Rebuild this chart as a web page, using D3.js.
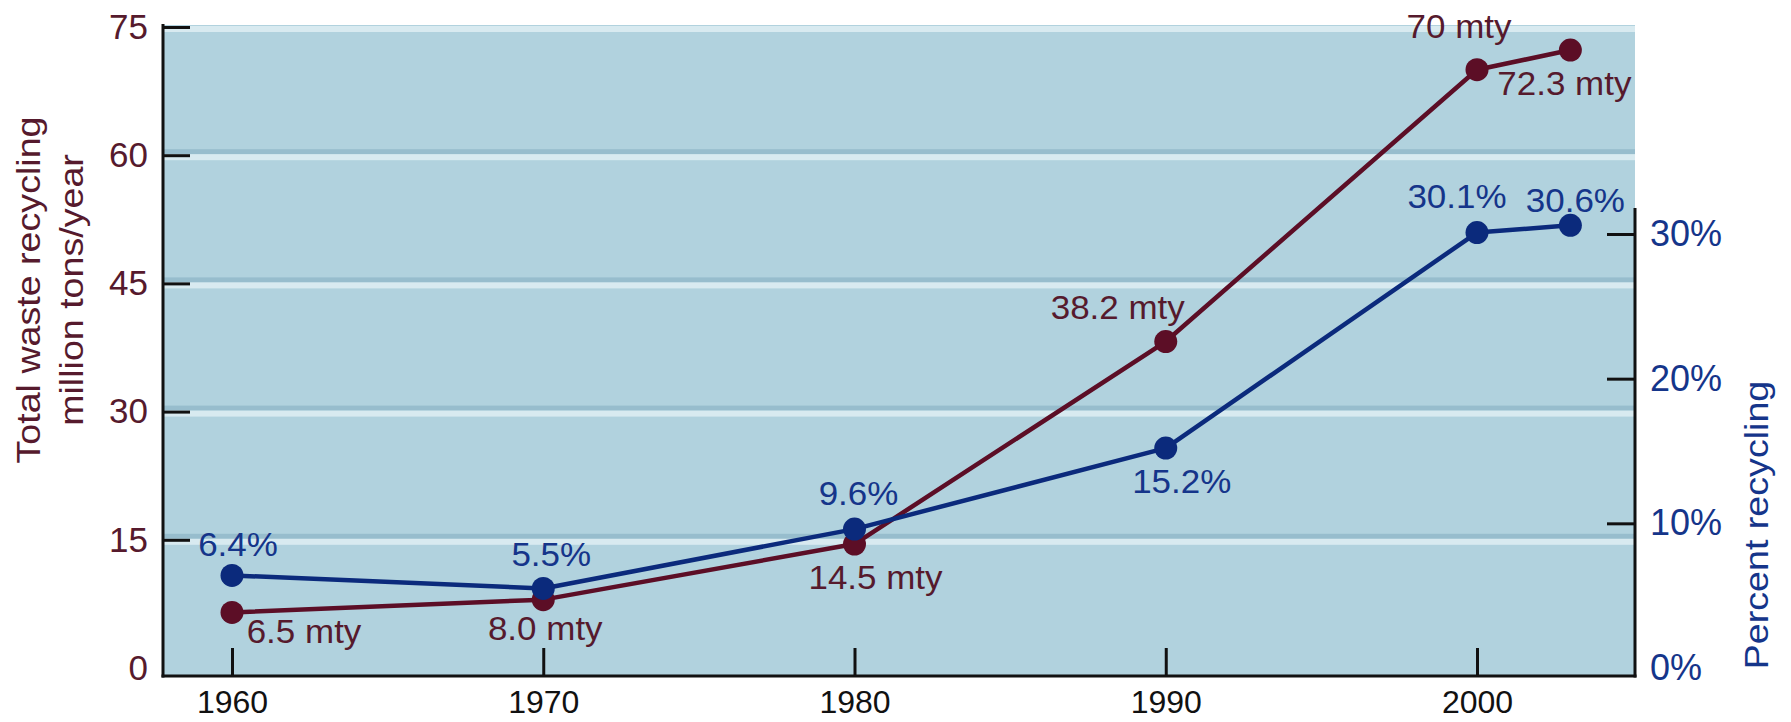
<!DOCTYPE html>
<html>
<head>
<meta charset="utf-8">
<script src="https://cdn.jsdelivr.net/npm/d3@7"></script>
<style>
  html, body { margin: 0; padding: 0; background: #ffffff; }
  svg { display: block; font-family: "Liberation Sans", Arial, Helvetica, sans-serif; }
</style>
</head>
<body>
<svg id="chart" width="1791" height="722"></svg>
<script>
// Recycling in the US: total tonnage recycled and share of waste recycled
const years = [1960, 1970, 1980, 1990, 2000, 2003];
const totalRecycling = [6.5, 8.0, 14.5, 38.2, 70, 72.3];        // million tons / year
const percentRecycling = [6.4, 5.5, 9.6, 15.2, 30.1, 30.6];      // percent
const totalLabels = ["6.5 mty", "8.0 mty", "14.5 mty", "38.2 mty", "70 mty", "72.3 mty"];
const percentLabels = ["6.4%", "5.5%", "9.6%", "15.2%", "30.1%", "30.6%"];
const leftTicks = [0, 15, 30, 45, 60, 75];
const rightTicks = [0, 10, 20, 30];
const yearTicks = [1960, 1970, 1980, 1990, 2000];

// label offsets from their points: [dx, dy]
const totalLabelOffset = [[72, 31], [2, 40], [21, 45], [-48, -23], [-18, -32], [-6, 45]];
const percentLabelOffset = [[6, -19], [8, -22], [4, -24], [16, 45], [-20, -25], [5, -13]];

const W = 1791, H = 722;
const plot = { left: 163, right: 1635, top: 25, bottom: 676 };

const C = {
  bg: "#b1d2de",
  bandDark: "#97bdcd",
  bandLight: "#d8eaf0",
  red: "#5c0e26",
  redText: "#561a2d",
  blue: "#0b2a7c",
  blueText: "#15358a",
  axis: "#111111"
};

const svg = d3.select("#chart");

const x = d3.scaleLinear().domain([1960, 2000]).range([232, 1477]);
const yL = d3.scaleLinear().domain([0, 75]).range([668, 27]);
const yR = d3.scaleLinear().domain([0, 30]).range([668, 234]);

// plot background
svg.append("rect")
  .attr("x", plot.left).attr("y", plot.top)
  .attr("width", plot.right - plot.left).attr("height", plot.bottom - plot.top)
  .attr("fill", C.bg);

// grid bands: a darker rule with a pale highlight underneath
const bands = svg.append("g");
leftTicks.filter(v => v > 0).forEach(v => {
  const yy = yL(v);
  if (v < 75) {
    bands.append("rect")
      .attr("x", plot.left).attr("y", yy - 6)
      .attr("width", plot.right - plot.left).attr("height", 5)
      .attr("fill", C.bandDark);
  }
  bands.append("rect")
    .attr("x", plot.left).attr("y", Math.max(yy - 1, plot.top))
    .attr("width", plot.right - plot.left).attr("height", 6)
    .attr("fill", C.bandLight);
});

// left axis
const gL = svg.append("g")
  .attr("transform", `translate(${plot.left},0)`)
  .call(d3.axisLeft(yL).tickValues(leftTicks).tickSizeInner(-27).tickSizeOuter(0).tickPadding(15));
gL.select(".domain").remove();
gL.selectAll(".tick line").attr("stroke", C.axis).attr("stroke-width", 3)
  .filter(d => d === 0).remove();
gL.selectAll(".tick text")
  .attr("fill", C.redText).attr("font-size", 35)
  .attr("font-family", "Liberation Sans, Arial, sans-serif");

// right axis
const gR = svg.append("g")
  .attr("transform", `translate(${plot.right},0)`)
  .call(d3.axisRight(yR).tickValues(rightTicks).tickSizeInner(-28).tickSizeOuter(0).tickPadding(15)
    .tickFormat(d => d + "%"));
gR.select(".domain").remove();
gR.selectAll(".tick line").attr("stroke", C.axis).attr("stroke-width", 3)
  .filter(d => d === 0).remove();
gR.selectAll(".tick text")
  .attr("fill", C.blueText).attr("font-size", 36)
  .attr("font-family", "Liberation Sans, Arial, sans-serif");

// bottom axis
const gB = svg.append("g")
  .attr("transform", `translate(0,${plot.bottom})`)
  .call(d3.axisBottom(x).tickValues(yearTicks).tickSizeInner(-28).tickSizeOuter(0).tickPadding(14)
    .tickFormat(d3.format("d")));
gB.select(".domain").remove();
gB.selectAll(".tick line").attr("stroke", C.axis).attr("stroke-width", 3);
gB.selectAll(".tick text")
  .attr("fill", "#111").attr("font-size", 32)
  .attr("font-family", "Liberation Sans, Arial, sans-serif");

// axis lines
svg.append("line")
  .attr("x1", plot.left).attr("x2", plot.left)
  .attr("y1", plot.top - 1).attr("y2", plot.bottom + 1.5)
  .attr("stroke", C.axis).attr("stroke-width", 3);
svg.append("line")
  .attr("x1", plot.left - 1.5).attr("x2", plot.right + 1.5)
  .attr("y1", plot.bottom).attr("y2", plot.bottom)
  .attr("stroke", C.axis).attr("stroke-width", 3);
svg.append("line")
  .attr("x1", plot.right).attr("x2", plot.right)
  .attr("y1", yR(31.8)).attr("y2", plot.bottom + 1.5)
  .attr("stroke", C.axis).attr("stroke-width", 3);

// series
const rows = years.map((yr, i) => ({
  year: yr, total: totalRecycling[i], pct: percentRecycling[i],
  tLabel: totalLabels[i], pLabel: percentLabels[i],
  tOff: totalLabelOffset[i], pOff: percentLabelOffset[i]
}));

function drawSeries(accessor, scale, color) {
  const line = d3.line().x(d => x(d.year)).y(d => scale(accessor(d)));
  svg.append("path").datum(rows)
    .attr("d", line).attr("fill", "none")
    .attr("stroke", color).attr("stroke-width", 4.5).attr("stroke-linejoin", "round");
  svg.append("g").selectAll("circle").data(rows).join("circle")
    .attr("cx", d => x(d.year)).attr("cy", d => scale(accessor(d)))
    .attr("r", 11.5).attr("fill", color);
}
drawSeries(d => d.total, yL, C.red);
drawSeries(d => d.pct, yR, C.blue);

// value labels
function drawLabels(accessor, scale, textOf, offOf, color) {
  svg.append("g").selectAll("text").data(rows).join("text")
    .attr("transform", d => `translate(${x(d.year) + offOf(d)[0]},${scale(accessor(d)) + offOf(d)[1]}) scale(1.06,1)`)
    .attr("text-anchor", "middle")
    .attr("font-size", 33)
    .attr("fill", color)
    .text(textOf);
}
drawLabels(d => d.total, yL, d => d.tLabel, d => d.tOff, C.redText);
drawLabels(d => d.pct, yR, d => d.pLabel, d => d.pOff, C.blueText);

// axis titles
svg.append("text")
  .attr("transform", "translate(28,290) rotate(-90) scale(1.14,1)")
  .attr("text-anchor", "middle").attr("dy", "0.35em")
  .attr("font-size", 33).attr("fill", C.redText)
  .text("Total waste recycling");
svg.append("text")
  .attr("transform", "translate(71,290) rotate(-90) scale(1.14,1)")
  .attr("text-anchor", "middle").attr("dy", "0.35em")
  .attr("font-size", 33).attr("fill", C.redText)
  .text("million tons/year");
svg.append("text")
  .attr("transform", "translate(1756,525) rotate(-90) scale(1.14,1)")
  .attr("text-anchor", "middle").attr("dy", "0.35em")
  .attr("font-size", 33).attr("fill", C.blueText)
  .text("Percent recycling");
</script>
</body>
</html>
